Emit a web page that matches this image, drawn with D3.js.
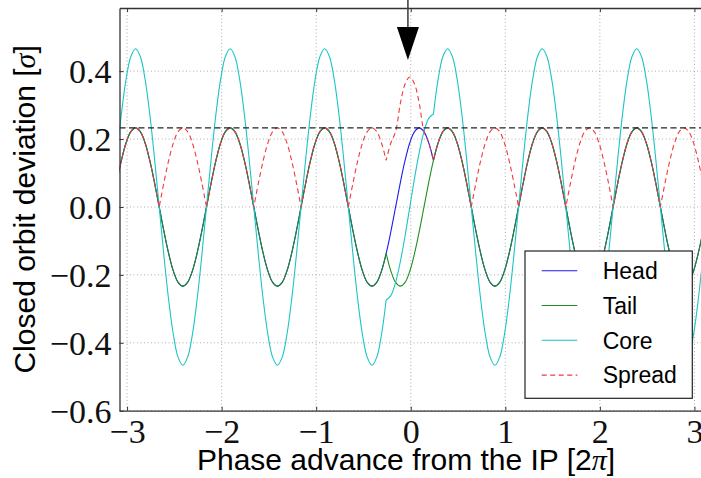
<!DOCTYPE html>
<html>
<head>
<meta charset="utf-8">
<script src="https://cdn.jsdelivr.net/npm/d3@7"></script>
<style>
  body { margin: 0; background: #fff; }
  svg { display: block; }
</style>
</head>
<body>
<div id="chart"></div>
<script>
// phase advance from the IP [2pi], one sample every 0.05
const phase = [
    -3.11, -3.06, -3.01, -2.96, -2.91, -2.86, -2.81, -2.76, -2.71, -2.66, -2.61, -2.56, -2.51, -2.46, -2.41, -2.36, -2.31, -2.26, -2.21, -2.16,
    -2.11, -2.06, -2.01, -1.96, -1.91, -1.86, -1.81, -1.76, -1.71, -1.66, -1.61, -1.56, -1.51, -1.46, -1.41, -1.36, -1.31, -1.26, -1.21, -1.16,
    -1.11, -1.06, -1.01, -0.96, -0.91, -0.86, -0.81, -0.76, -0.71, -0.66, -0.61, -0.56, -0.51, -0.46, -0.41, -0.36, -0.31, -0.26, -0.21, -0.16,
    -0.11, -0.06, -0.01, 0.04, 0.09, 0.14, 0.19, 0.24, 0.29, 0.34, 0.39, 0.44, 0.49, 0.54, 0.59, 0.64, 0.69, 0.74, 0.79, 0.84,
    0.89, 0.94, 0.99, 1.04, 1.09, 1.14, 1.19, 1.24, 1.29, 1.34, 1.39, 1.44, 1.49, 1.54, 1.59, 1.64, 1.69, 1.74, 1.79, 1.84,
    1.89, 1.94, 1.99, 2.04, 2.09, 2.14, 2.19, 2.24, 2.29, 2.34, 2.39, 2.44, 2.49, 2.54, 2.59, 2.64, 2.69, 2.74, 2.79, 2.84,
    2.89, 2.94, 2.99, 3.04, 3.09
];

// closed orbit deviation [sigma]
const head = [
    0.072, 0.137, 0.189, 0.222, 0.233, 0.222, 0.189, 0.137, 0.072, 0, -0.072, -0.137, -0.189, -0.222, -0.233, -0.222, -0.189, -0.137, -0.072, 0,
    0.072, 0.137, 0.189, 0.222, 0.233, 0.222, 0.189, 0.137, 0.072, 0, -0.072, -0.137, -0.189, -0.222, -0.233, -0.222, -0.189, -0.137, -0.072, 0,
    0.072, 0.137, 0.189, 0.222, 0.233, 0.222, 0.189, 0.137, 0.072, 0, -0.072, -0.137, -0.189, -0.222, -0.233, -0.222, -0.189, -0.137, -0.072, 0,
    0.072, 0.137, 0.189, 0.222, 0.233, 0.222, 0.189, 0.137, 0.189, 0.222, 0.233, 0.222, 0.189, 0.137, 0.072, 0, -0.072, -0.137, -0.189, -0.222,
    -0.233, -0.222, -0.189, -0.137, -0.072, 0, 0.072, 0.137, 0.189, 0.222, 0.233, 0.222, 0.189, 0.137, 0.072, 0, -0.072, -0.137, -0.189, -0.222,
    -0.233, -0.222, -0.189, -0.137, -0.072, 0, 0.072, 0.137, 0.189, 0.222, 0.233, 0.222, 0.189, 0.137, 0.072, 0, -0.072, -0.137, -0.189, -0.222,
    -0.233, -0.222, -0.189, -0.137, -0.072
];
const tail = [
    0.072, 0.137, 0.189, 0.222, 0.233, 0.222, 0.189, 0.137, 0.072, 0, -0.072, -0.137, -0.189, -0.222, -0.233, -0.222, -0.189, -0.137, -0.072, 0,
    0.072, 0.137, 0.189, 0.222, 0.233, 0.222, 0.189, 0.137, 0.072, 0, -0.072, -0.137, -0.189, -0.222, -0.233, -0.222, -0.189, -0.137, -0.072, 0,
    0.072, 0.137, 0.189, 0.222, 0.233, 0.222, 0.189, 0.137, 0.072, 0, -0.072, -0.137, -0.189, -0.222, -0.233, -0.222, -0.189, -0.137, -0.189, -0.222,
    -0.233, -0.222, -0.189, -0.137, -0.072, 0, 0.072, 0.137, 0.189, 0.222, 0.233, 0.222, 0.189, 0.137, 0.072, 0, -0.072, -0.137, -0.189, -0.222,
    -0.233, -0.222, -0.189, -0.137, -0.072, 0, 0.072, 0.137, 0.189, 0.222, 0.233, 0.222, 0.189, 0.137, 0.072, 0, -0.072, -0.137, -0.189, -0.222,
    -0.233, -0.222, -0.189, -0.137, -0.072, 0, 0.072, 0.137, 0.189, 0.222, 0.233, 0.222, 0.189, 0.137, 0.072, 0, -0.072, -0.137, -0.189, -0.222,
    -0.233, -0.222, -0.189, -0.137, -0.072
];
const core = [
    0.144, 0.274, 0.377, 0.443, 0.466, 0.443, 0.377, 0.274, 0.144, 0, -0.144, -0.274, -0.377, -0.443, -0.466, -0.443, -0.377, -0.274, -0.144, 0,
    0.144, 0.274, 0.377, 0.443, 0.466, 0.443, 0.377, 0.274, 0.144, 0, -0.144, -0.274, -0.377, -0.443, -0.466, -0.443, -0.377, -0.274, -0.144, 0,
    0.144, 0.274, 0.377, 0.443, 0.466, 0.443, 0.377, 0.274, 0.144, 0, -0.144, -0.274, -0.377, -0.443, -0.466, -0.443, -0.377, -0.274, -0.261, -0.222,
    -0.161, -0.085, 0, 0.085, 0.161, 0.222, 0.261, 0.274, 0.377, 0.443, 0.466, 0.443, 0.377, 0.274, 0.144, 0, -0.144, -0.274, -0.377, -0.443,
    -0.466, -0.443, -0.377, -0.274, -0.144, 0, 0.144, 0.274, 0.377, 0.443, 0.466, 0.443, 0.377, 0.274, 0.144, 0, -0.144, -0.274, -0.377, -0.443,
    -0.466, -0.443, -0.377, -0.274, -0.144, 0, 0.144, 0.274, 0.377, 0.443, 0.466, 0.443, 0.377, 0.274, 0.144, 0, -0.144, -0.274, -0.377, -0.443,
    -0.466, -0.443, -0.377, -0.274, -0.144
];
const spread = [
    0.072, 0.137, 0.189, 0.222, 0.233, 0.222, 0.189, 0.137, 0.072, 0, 0.072, 0.137, 0.189, 0.222, 0.233, 0.222, 0.189, 0.137, 0.072, 0,
    0.072, 0.137, 0.189, 0.222, 0.233, 0.222, 0.189, 0.137, 0.072, 0, 0.072, 0.137, 0.189, 0.222, 0.233, 0.222, 0.189, 0.137, 0.072, 0,
    0.072, 0.137, 0.189, 0.222, 0.233, 0.222, 0.189, 0.137, 0.072, 0, 0.072, 0.137, 0.189, 0.222, 0.233, 0.222, 0.189, 0.137, 0.189, 0.222,
    0.305, 0.362, 0.383, 0.362, 0.305, 0.222, 0.189, 0.137, 0.189, 0.222, 0.233, 0.222, 0.189, 0.137, 0.072, 0, 0.072, 0.137, 0.189, 0.222,
    0.233, 0.222, 0.189, 0.137, 0.072, 0, 0.072, 0.137, 0.189, 0.222, 0.233, 0.222, 0.189, 0.137, 0.072, 0, 0.072, 0.137, 0.189, 0.222,
    0.233, 0.222, 0.189, 0.137, 0.072, 0, 0.072, 0.137, 0.189, 0.222, 0.233, 0.222, 0.189, 0.137, 0.072, 0, 0.072, 0.137, 0.189, 0.222,
    0.233, 0.222, 0.189, 0.137, 0.072
];

const seriesNames = ['Head', 'Tail', 'Core', 'Spread'];
const xTicks = [-3, -2, -1, 0, 1, 2, 3];
const yTicks = [-0.6, -0.4, -0.2, 0.0, 0.2, 0.4];
const refLevel = 0.233;      // dashed horizontal line
const arrowPhase = -0.03;    // arrow pointing at the IP
const arrowTip = 0.433;


let drawChart = function() {
    let width = 701, height = 478;
    let margin = {top: 8, right: -1, bottom: 67.3, left: 119.5};
    let innerW = width - margin.left - margin.right;
    let innerH = height - margin.top - margin.bottom;

    let styles = [
        {color: '#1c1cf0', dash: null},
        {color: '#1f8f1f', dash: null},
        {color: '#1cc4c4', dash: null},
        {color: '#f03a3a', dash: '5,3.5'}
    ];
    let series = [head, tail, core, spread];

    let root = d3.select('#chart')
    .append('svg')
        .attr('width', width)
        .attr('height', height);
    let svg = root.append('g')
        .attr('transform', 'translate(' + margin.left + ',' + margin.top + ')');

    let x = d3.scaleLinear().domain([-3.08, 3.08]).range([0, innerW]);
    let y = d3.scaleLinear().domain([-0.6, 0.586]).range([innerH, 0]);

    svg.append('clipPath').attr('id', 'plotclip')
    .append('rect')
        .attr('width', innerW)
        .attr('height', innerH);

    // dotted grid
    svg.append('g').selectAll('line')
    .data(xTicks)
    .enter().append('line')
        .attr('x1', d => x(d)).attr('x2', d => x(d))
        .attr('y1', 0).attr('y2', innerH)
        .attr('stroke', '#999').attr('stroke-width', 0.8)
        .attr('stroke-dasharray', '1,2.5');
    svg.append('g').selectAll('line')
    .data(yTicks)
    .enter().append('line')
        .attr('x1', 0).attr('x2', innerW)
        .attr('y1', d => y(d)).attr('y2', d => y(d))
        .attr('stroke', '#999').attr('stroke-width', 0.8)
        .attr('stroke-dasharray', '1,2.5');

    // curves: split at sharp corners so the smoothing doesn't round them off
    let line = d3.line()
        .x(d => x(d[0]))
        .y(d => y(d[1]))
        .curve(d3.curveCatmullRom);
    let pathFor = function(values) {
        let pts = phase.map((p, i) => [p, values[i]]);
        let cuts = [0];
        for (let i = 1; i < pts.length - 1; i++) {
            let bend = Math.abs(values[i + 1] - 2 * values[i] + values[i - 1]);
            if (bend > 0.07) cuts.push(i);
        }
        cuts.push(pts.length - 1);
        let d = '';
        for (let k = 0; k < cuts.length - 1; k++) {
            let seg = line(pts.slice(cuts[k], cuts[k + 1] + 1));
            d += k === 0 ? seg : 'L' + seg.slice(1);
        }
        return d;
    };

    let plot = svg.append('g').attr('clip-path', 'url(#plotclip)');
    series.forEach(function(values, i) {
        plot.append('path')
            .attr('d', pathFor(values))
            .attr('fill', 'none')
            .attr('stroke', styles[i].color)
            .attr('stroke-width', 1.1)
            .attr('stroke-dasharray', styles[i].dash);
    });

    plot.append('line')
        .attr('x1', 0).attr('x2', innerW)
        .attr('y1', y(refLevel)).attr('y2', y(refLevel))
        .attr('stroke', '#222').attr('stroke-width', 1.1)
        .attr('stroke-dasharray', '6,3.5');

    // axes (ticks inside, matplotlib classic look)
    let xAxis = svg.append('g')
        .attr('transform', 'translate(0,' + innerH + ')')
        .call(d3.axisBottom(x).tickValues(xTicks).tickSizeInner(-4).tickSizeOuter(0).tickFormat(d3.format('d')));
    let yAxis = svg.append('g')
        .call(d3.axisLeft(y).tickValues(yTicks).tickSizeInner(-4).tickSizeOuter(0).tickFormat(d3.format('.1f')));
    svg.append('g')
        .call(d3.axisTop(x).tickValues(xTicks).tickSizeInner(-4).tickSizeOuter(0).tickFormat(''));

    svg.selectAll('.domain').attr('stroke', '#333').attr('stroke-width', 1.3);
    svg.selectAll('.tick line').attr('stroke', '#333');

    xAxis.selectAll('text')
        .attr('y', 8)
        .attr('dy', '0.71em')
        .style('font-family', '"Liberation Serif", serif')
        .style('font-size', '34px')
        .attr('fill', '#111');
    yAxis.selectAll('text')
        .attr('x', -8)
        .attr('dy', '0.34em')
        .style('font-family', '"Liberation Serif", serif')
        .style('font-size', '34px')
        .attr('fill', '#111');

    // arrow marking the IP
    let ax = x(arrowPhase);
    let tipY = y(arrowTip);
    svg.append('line')
        .attr('x1', ax).attr('x2', ax)
        .attr('y1', -margin.top).attr('y2', tipY - 30)
        .attr('stroke', '#444').attr('stroke-width', 1.6);
    svg.append('path')
        .attr('d', 'M' + (ax - 11) + ',' + (tipY - 33) + 'L' + (ax + 11) + ',' + (tipY - 33) + 'L' + ax + ',' + tipY + 'Z')
        .attr('fill', '#000');

    // legend
    let legend = svg.append('g')
        .attr('transform', 'translate(' + (innerW - 177) + ',' + 243 + ')');
    legend.append('rect')
        .attr('width', 167.3).attr('height', 147.3)
        .attr('fill', '#fff')
        .attr('stroke', '#222').attr('stroke-width', 1.2);
    seriesNames.forEach(function(name, i) {
        let ry = 19.7 + i * 34.8;
        legend.append('line')
            .attr('x1', 16.7).attr('x2', 52.3)
            .attr('y1', ry).attr('y2', ry)
            .attr('stroke', styles[i].color).attr('stroke-width', 1.1)
            .attr('stroke-dasharray', styles[i].dash);
        legend.append('text')
            .attr('x', 77.7).attr('y', ry + 8.3)
            .style('font-family', '"Liberation Sans", Arial, sans-serif')
            .style('font-size', '23px')
            .attr('fill', '#000')
            .text(name);
    });

    // axis titles
    let yTitle = root.append('text')
        .attr('transform', 'translate(35,209.4) rotate(-90)')
        .attr('text-anchor', 'middle')
        .style('font-family', '"Liberation Sans", Arial, sans-serif')
        .style('font-size', '30px')
        .attr('fill', '#000');
    yTitle.append('tspan').text('Closed orbit deviation [');
    yTitle.append('tspan').style('font-family', '"Liberation Serif", serif').style('font-style', 'italic').text('σ');
    yTitle.append('tspan').text(']');

    let xTitle = root.append('text')
        .attr('x', 406).attr('y', 470)
        .attr('text-anchor', 'middle')
        .style('font-family', '"Liberation Sans", Arial, sans-serif')
        .style('font-size', '30px')
        .attr('fill', '#000');
    xTitle.append('tspan').text('Phase advance from the IP [2');
    xTitle.append('tspan').style('font-family', '"Liberation Serif", serif').style('font-style', 'italic').text('π');
    xTitle.append('tspan').text(']');
};

drawChart();
</script>
</body>
</html>
